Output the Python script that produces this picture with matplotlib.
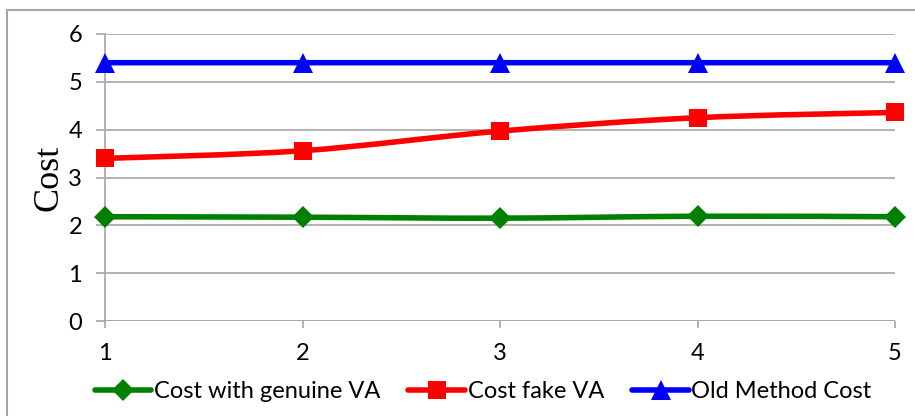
import matplotlib
matplotlib.use("Agg")
import matplotlib.pyplot as plt
import numpy as np
from matplotlib.path import Path
from matplotlib.patches import PathPatch, Rectangle
from matplotlib.lines import Line2D

# * Data
runs = [1, 2, 3, 4, 5]
cost_genuine = [2.18, 2.17, 2.15, 2.19, 2.18]
cost_fake = [3.40, 3.56, 3.97, 4.25, 4.36]
cost_old = [5.40, 5.40, 5.40, 5.40, 5.40]
y_ticks = [0, 1, 2, 3, 4, 5, 6]

series = [
    ("Cost with genuine VA", cost_genuine, "#008000", "D", 11),
    ("Cost fake VA", cost_fake, "#ff0000", "s", 13.5),
    ("Old Method Cost", cost_old, "#0000ff", "^", 14),
]

plt.rcParams["font.family"] = ["Lato", "DejaVu Sans"]


# Excel-style smoothed line: cubic bezier through each point (Catmull-Rom control points)
def smooth_path(xs, ys):
    pts = np.column_stack([xs, ys]).astype(float)
    verts = [pts[0]]
    codes = [Path.MOVETO]
    n = len(pts)
    for i in range(n - 1):
        p0 = pts[i - 1] if i > 0 else pts[i]
        p1 = pts[i]
        p2 = pts[i + 1]
        p3 = pts[i + 2] if i + 2 < n else pts[i + 1]
        c1 = p1 + (p2 - p0) / 6.0
        c2 = p2 - (p3 - p1) / 6.0
        verts += [c1, c2, p2]
        codes += [Path.CURVE4] * 3
    return Path(verts, codes)


fig = plt.figure(figsize=(9.15, 4.16), dpi=100)
ax = fig.add_axes([105 / 915, 95 / 416, 790 / 915, 287 / 416])

grid_c = "#a6a6a6"
for name, vals, col, mk, ms in series:
    ax.add_patch(PathPatch(smooth_path(runs, vals), fill=False, edgecolor=col,
                           lw=4, capstyle="round", zorder=3, clip_on=False))
    ax.plot(runs, vals, linestyle="none", marker=mk, markersize=ms, color=col,
            markeredgewidth=0, zorder=4, clip_on=False)

ax.set_xlim(1, 5)
ax.set_ylim(0, 6)
ax.set_xticks(runs)
ax.set_yticks(y_ticks)
ax.yaxis.grid(True, color=grid_c, lw=1.2)
ax.set_axisbelow(True)
for s in ["top", "right", "bottom"]:
    ax.spines[s].set_visible(False)
ax.spines["left"].set_color(grid_c)
ax.spines["left"].set_linewidth(1.2)
ax.tick_params(axis="y", direction="out", length=6.5, width=1.2, color=grid_c,
               pad=10, labelsize=17)
ax.tick_params(axis="x", direction="out", length=5, width=1.2, color=grid_c,
               pad=11, labelsize=17)
ax.axhline(0, color=grid_c, lw=1.2, zorder=1)
ax.set_ylabel("Cost", family="Liberation Serif", fontsize=26, labelpad=2)

handles = [Line2D([], [], color=col, lw=4, marker=mk, markersize=ms,
                  markeredgewidth=0, solid_capstyle="round")
           for name, vals, col, mk, ms in series]
fig.legend(handles, [s[0] for s in series], loc="center", ncol=3,
           bbox_to_anchor=(0.528, 0.058), frameon=False, fontsize=17,
           handlelength=2.4, handletextpad=0.1, columnspacing=1.2)

# outer chart border (runs off the right and bottom edges)
fig.add_artist(Rectangle((7 / 915, -0.05), 1.0, 0.976 + 0.05, transform=fig.transFigure,
                         fill=False, edgecolor=grid_c, lw=1.5))

fig.savefig("out.png", dpi=100)
